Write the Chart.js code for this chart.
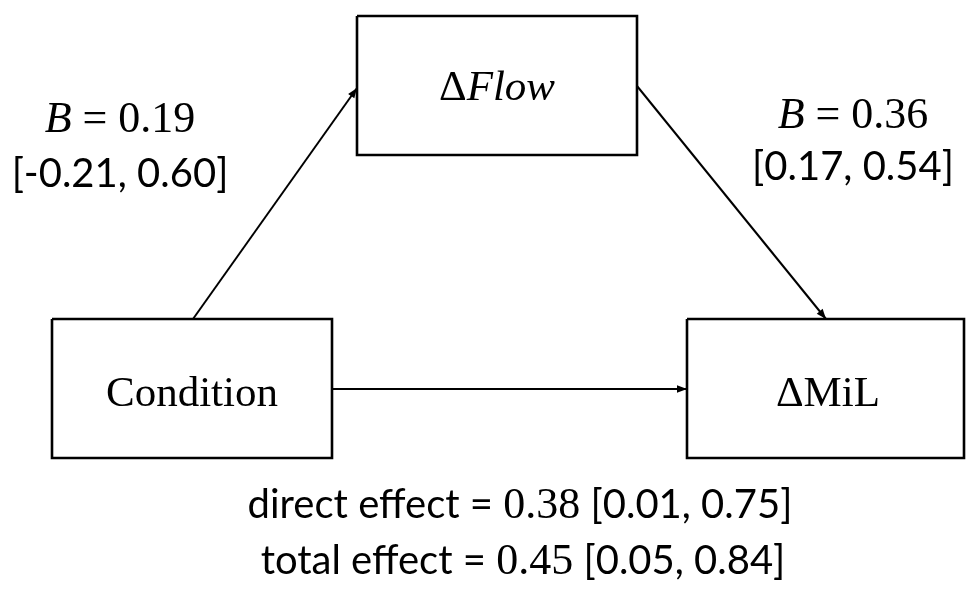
<!DOCTYPE html>
<html>
<head>
<meta charset="utf-8">
<script src="https://cdn.jsdelivr.net/npm/chart.js@4/dist/chart.umd.min.js"></script>
<style>
  html, body { margin: 0; padding: 0; background: #ffffff; }
  #wrap { width: 966px; height: 602px; position: relative; }
</style>
</head>
<body>
<div id="wrap"><canvas id="c"></canvas></div>
<script>
// Mediation model: Condition -> ΔFlow -> ΔMiL
const nodeNames = ['Condition', 'ΔFlow', 'ΔMiL'];
const pathB = [0.19, 0.36];          // a path, b path
const pathLow = [-0.21, 0.17];
const pathHigh = [0.60, 0.54];
const effectNames = ['direct effect', 'total effect'];
const effectB = [0.38, 0.45];
const effectLow = [0.01, 0.05];
const effectHigh = [0.75, 0.84];

// Layout in canvas units (x to the right, y downward)
const layout = {
  boxes: [
    { x0: 52, x1: 332, y0: 319, y1: 458, tx: 192, ty: 406 },
    { x0: 357, x1: 637, y0: 16, y1: 155, tx: 497, ty: 100 },
    { x0: 687, x1: 964, y0: 319, y1: 458, tx: 828, ty: 406 }
  ],
  arrows: [
    { from: [193, 319], to: [357, 88] },
    { from: [637, 86], to: [826, 319] },
    { from: [332, 389], to: [687, 389] }
  ],
  pathLabels: [
    { x: 120, yB: 132, yCI: 187 },
    { x: 853, yB: 128, yCI: 180 }
  ],
  effectLabels: [
    { x: 520, y: 518 },
    { x: 523, y: 574 }
  ]
};

const SERIF = '"Liberation Serif", "DejaVu Serif", serif';
const SANS = 'Lato, "Open Sans", sans-serif';
const f2 = v => v.toFixed(2);

const boxDatasets = layout.boxes.map((b, i) => ({
  label: nodeNames[i],
  data: [
    { x: b.x0, y: b.y0 }, { x: b.x1, y: b.y0 },
    { x: b.x1, y: b.y1 }, { x: b.x0, y: b.y1 }, { x: b.x0, y: b.y0 }
  ],
  showLine: true,
  borderColor: '#000',
  borderWidth: 2.6,
  borderJoinStyle: 'miter',
  pointRadius: 0,
  fill: false,
  tension: 0
}));

const arrowDatasets = layout.arrows.map((a, i) => ({
  label: 'path ' + i,
  data: [{ x: a.from[0], y: a.from[1] }, { x: a.to[0], y: a.to[1] }],
  showLine: true,
  borderColor: '#000',
  borderWidth: 2,
  pointRadius: 0,
  fill: false
}));

// Draws a run of text segments with different fonts, centred on cx
function drawRuns(ctx, runs, cx, y) {
  let total = 0;
  runs.forEach(r => { ctx.font = r.font; r.w = ctx.measureText(r.text).width; total += r.w; });
  let x = cx - total / 2;
  ctx.textAlign = 'left';
  ctx.textBaseline = 'alphabetic';
  runs.forEach(r => { ctx.font = r.font; ctx.fillText(r.text, x, y); x += r.w; });
}

const diagramPlugin = {
  id: 'diagram',
  afterDatasetsDraw(chart) {
    const ctx = chart.ctx;
    const sx = chart.scales.x, sy = chart.scales.y;
    const px = v => sx.getPixelForValue(v);
    const py = v => sy.getPixelForValue(v);
    ctx.save();
    ctx.fillStyle = '#000';

    // arrowheads
    layout.arrows.forEach(a => {
      const x1 = px(a.from[0]), y1 = py(a.from[1]);
      const x2 = px(a.to[0]), y2 = py(a.to[1]);
      const ang = Math.atan2(y2 - y1, x2 - x1);
      const len = 10, half = 3.8;
      ctx.beginPath();
      ctx.moveTo(x2, y2);
      ctx.lineTo(x2 - len * Math.cos(ang) + half * Math.sin(ang), y2 - len * Math.sin(ang) - half * Math.cos(ang));
      ctx.lineTo(x2 - len * Math.cos(ang) - half * Math.sin(ang), y2 - len * Math.sin(ang) + half * Math.cos(ang));
      ctx.closePath();
      ctx.fill();
    });

    // node labels
    const nodeRuns = [
      [{ text: nodeNames[0], font: '43px ' + SERIF }],
      [{ text: 'Δ', font: '43px ' + SERIF }, { text: nodeNames[1].slice(1), font: 'italic 43px ' + SERIF }],
      [{ text: nodeNames[2], font: '43px ' + SERIF }]
    ];
    layout.boxes.forEach((b, i) => drawRuns(ctx, nodeRuns[i], px(b.tx), py(b.ty)));

    // path coefficients
    layout.pathLabels.forEach((p, i) => {
      drawRuns(ctx, [
        { text: 'B', font: 'italic 44px ' + SERIF },
        { text: ' = ' + f2(pathB[i]), font: '44px ' + SERIF }
      ], px(p.x), py(p.yB));
      drawRuns(ctx, [
        { text: '[' + f2(pathLow[i]) + ', ' + f2(pathHigh[i]) + ']', font: '40px ' + SANS }
      ], px(p.x), py(p.yCI));
    });

    // direct and total effects
    layout.effectLabels.forEach((e, i) => {
      drawRuns(ctx, [
        { text: effectNames[i] + ' = ', font: '40px ' + SANS },
        { text: f2(effectB[i]), font: '44px ' + SERIF },
        { text: ' [' + f2(effectLow[i]) + ', ' + f2(effectHigh[i]) + ']', font: '40px ' + SANS }
      ], px(e.x), py(e.y));
    });

    ctx.restore();
  }
};

new Chart(document.getElementById('c'), {
  type: 'scatter',
  data: { datasets: [...boxDatasets, ...arrowDatasets] },
  options: {
    responsive: true,
    maintainAspectRatio: false,
    devicePixelRatio: 1,
    animation: false,
    layout: { padding: 0 },
    plugins: { legend: { display: false }, tooltip: { enabled: false } },
    scales: {
      x: { type: 'linear', min: 0, max: 966, display: false },
      y: { type: 'linear', min: 0, max: 602, reverse: true, display: false }
    }
  },
  plugins: [diagramPlugin]
});
</script>
</body>
</html>
